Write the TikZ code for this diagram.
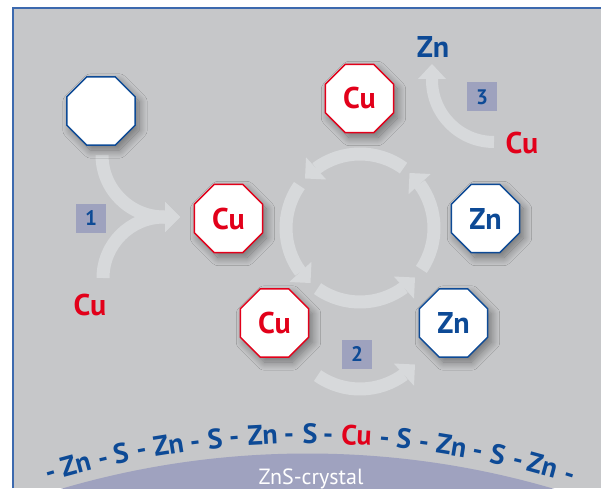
\documentclass[tikz,border=0pt]{standalone}
\usepackage{fontspec}
\setmainfont{PT Sans}
\usetikzlibrary{shapes.geometric,arrows.meta,bending,shadows.blur,calc}
\definecolor{bg}{HTML}{C6C7C9}
\definecolor{frameblue}{HTML}{3C69AE}
\definecolor{zblue}{HTML}{0D4A96}
\definecolor{cured}{HTML}{E2001A}
\definecolor{arr}{HTML}{D7D9DB}
\definecolor{boxc}{HTML}{9EA2BE}
\definecolor{cryst}{HTML}{9FA2BF}
\begin{document}
\begin{tikzpicture}[x=1pt,y=1pt,
  oct/.style={regular polygon, regular polygon sides=8, minimum size=74pt, inner sep=0pt,
    fill=white, line width=1.4pt,
    blur shadow={shadow xshift=4pt, shadow yshift=-5pt, shadow blur radius=8pt, shadow blur steps=16, shadow opacity=42},
    font=\fontsize{30}{30}\selectfont\bfseries},
  cuoct/.style={oct, draw=cured, text=cured},
  znoct/.style={oct, draw=zblue, text=zblue},
  numbox/.style={fill=boxc, minimum width=30pt, minimum height=29pt, inner sep=0pt,
    text=zblue, font=\fontsize{21}{21}\selectfont\bfseries},
  lbl/.style={font=\fontsize{30}{30}\selectfont\bfseries, inner sep=0pt},
  flow/.style={draw=arr, line width=13pt, -{Triangle[width=30pt,length=15pt,line width=0pt]}},
  chain/.style={font=\fontsize{28}{28}\selectfont\bfseries, inner sep=0pt, anchor=base}
]
\useasboundingbox (0,0) rectangle (601,488);
\clip (0,0) rectangle (601,488);
% background and frame
\fill[bg] (13,0) rectangle (601,480);
\draw[frameblue, line width=2pt] (13,0) -- (13,480) -- (601,480);
% crystal
\fill[cryst] (307.5,-836.5) circle[radius=871];
\node[font=\fontsize{22}{22}\selectfont, text=white, anchor=base, inner sep=0pt] (crys) at (311,4) {ZnS-crystal};
% chain
\coordinate (cc) at (307.5,-836.5);
\foreach \a/\t/\c [count=\i] in {106.79/-/zblue, 105.10/Zn/zblue, 103.29/-/zblue, 102.09/S/zblue,
  100.76/-/zblue, 98.98/Zn/zblue, 97.27/-/zblue, 95.96/S/zblue, 94.72/-/zblue, 92.89/Zn/zblue,
  91.20/-/zblue, 89.84/S/zblue, 88.67/-/zblue, 86.84/Cu/cured, 85.02/-/zblue, 83.78/S/zblue,
  82.47/-/zblue, 80.69/Zn/zblue, 78.97/-/zblue, 77.65/S/zblue, 76.31/-/zblue, 74.70/Zn/zblue,
  72.87/-/zblue}
{
  \node[chain, rotate=\a-90, text=\c] (ch\i) at ($(cc)+(\a:881)$) {\t};
}
% ring cycle
\coordinate (ring) at (360,260);
\draw[flow] ($(ring)+(54:74)$) arc[start angle=54, end angle=138, radius=74];
\draw[flow] ($(ring)+(145:74)$) arc[start angle=145, end angle=228, radius=74];
\draw[flow] ($(ring)+(235:74)$) arc[start angle=235, end angle=318, radius=74];
\draw[flow] ($(ring)+(326:74)$) arc[start angle=326, end angle=408, radius=74];
% arrow 2
\coordinate (ring2) at (360,173);
\draw[flow] ($(ring2)+(235:74)$) arc[start angle=235, end angle=318, radius=74];
% arrow 3
\coordinate (a3s) at (494,346);
\coordinate (a3e) at (432,424);
\draw[flow, line width=12pt, -{Triangle[width=28pt,length=15pt,line width=0pt]}]
  (a3s) arc[start angle=270, end angle=180, radius=62] -- (a3e);
% arrow 1
\coordinate (a1t) at (102,333);
\coordinate (a1b) at (103,210);
\coordinate (a1e) at (180,271);
\draw[flow] (a1t) arc[start angle=180, end angle=270, radius=62] -- (a1e);
\draw[flow] (a1b) arc[start angle=180, end angle=90, radius=61] -- (a1e);
% octagons
\node[oct, draw=zblue] (empty) at (101,377) {};
\node[cuoct] (cu1) at (228.5,269.5) {Cu};
\node[cuoct] (cu2) at (359.5,389.5) {Cu};
\node[znoct] (zn1) at (485.5,269.5) {Zn};
\node[cuoct] (cu3) at (274.5,165) {Cu};
\node[znoct] (zn2) at (453.5,165) {Zn};
% free labels
\node[lbl, text=zblue] (znfree) at (433,441) {Zn};
\node[lbl, text=cured] (cufree) at (522,345) {Cu};
\node[lbl, text=cured] (cuin) at (90,183) {Cu};
% number boxes
\node[numbox] (n1) at (91,269.5) {1};
\node[numbox] (n2) at (357,134) {2};
\node[numbox] (n3) at (482,391) {3};
\end{tikzpicture}
\end{document}
